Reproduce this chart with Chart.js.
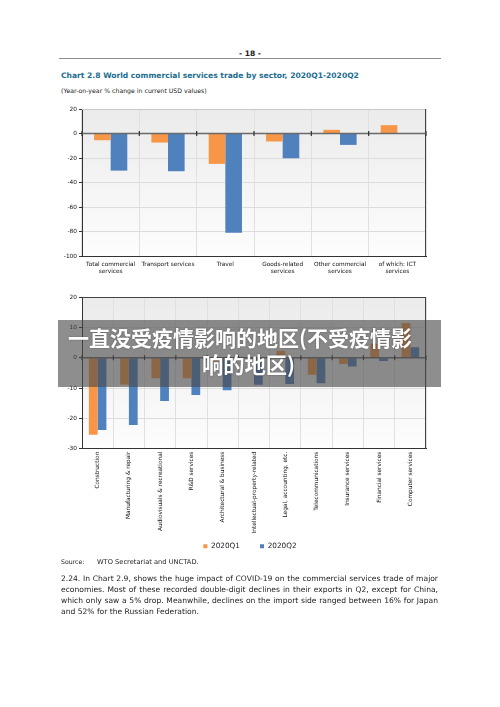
<!DOCTYPE html>
<html>
<head>
<meta charset="utf-8">
<script src="https://cdn.jsdelivr.net/npm/chart.js@4.4.1/dist/chart.umd.min.js"></script>
<style>
  body { margin: 0; background: #fff; }
  #page { position: relative; width: 500px; height: 707px; overflow: hidden; background: #fff;
          font-family: "DejaVu Sans", Verdana, sans-serif; color: #222; }
  .t { position: absolute; white-space: nowrap; line-height: 1; }
  canvas { position: absolute; }
  #rule { position: absolute; left: 59px; top: 58px; width: 382px; height: 1.4px; background: #8e8e8e; }
  .para { position: absolute; left: 61px; width: 377px; white-space: nowrap; line-height: 1; color: #222; }
  .just { text-align: justify; text-align-last: justify; }
  #banner { position: absolute; left: 58px; top: 320px; width: 383px; height: 67px; background: rgba(72,72,72,0.62); }
  .ban { position: absolute; white-space: nowrap; line-height: 1; color: #fff; font-weight: bold;
         font-family: "Noto Sans CJK SC", sans-serif; text-shadow: 0 0 2px rgba(0,0,0,0.35); }
</style>
</head>
<body>
<div id="page">
  <div class="t" id="pageNo" style="font-weight:bold;">- 18 -</div>
  <div id="rule"></div>
  <div class="t" id="title" style="left:61px;font-weight:bold;color:#1b6d8f;">Chart 2.8 World commercial services trade by sector, 2020Q1-2020Q2</div>
  <div class="t" id="subtitle" style="left:61px;">(Year-on-year % change in current USD values)</div>

  <canvas id="sectorChart" width="390" height="180" style="left:50px;top:103px;"></canvas>
  <canvas id="branchChart" width="390" height="281" style="left:50px;top:291px;"></canvas>

  <div class="t" id="srcLabel" style="left:61px;">Source:</div>
  <div class="t" id="srcText" style="left:97px;">WTO Secretariat and UNCTAD.</div>

  <div class="para just" id="p1">2.24. In Chart 2.9, shows the huge impact of COVID-19 on the commercial services trade of major</div>
  <div class="para just" id="p2">economies. Most of these recorded double-digit declines in their exports in Q2, except for China,</div>
  <div class="para just" id="p3">which only saw a 5% drop. Meanwhile, declines on the import side ranged between 16% for Japan</div>
  <div class="para" id="p4" style="width:auto;">and 52% for the Russian Federation.</div>

  <div id="banner"></div>
  <div class="ban" id="ban1">一直没受疫情影响的地区(不受疫情影</div>
  <div class="ban" id="ban2">响的地区)</div>
</div>

<script>
// chart 2.8 top panel: by sector
const sectors = [['Total commercial', 'services'], ['Transport services'], ['Travel'],
                 ['Goods-related', 'services'], ['Other commercial', 'services'], ['of which: ICT', 'services']];
const sectorQ1 = [-5.5, -7.4, -24.8, -6.5, 3.0, 6.8];
const sectorQ2 = [-30.3, -30.8, -81.0, -20.2, -9.3, 0];
const sectorTicks = [20, 0, -20, -40, -60, -80, -100];

// bottom panel: by service branch
const branches = ['Construction', 'Manufacturing & repair', 'Audiovisuals & recreational', 'R&D services',
                  'Architectural & business', 'Intellectual-property-related', 'Legal, accounting, etc.',
                  'Telecommunications', 'Insurance services', 'Financial services', 'Computer services'];
const branchQ1 = [-25.4, -8.8, -6.8, -6.8, -1.3, -0.4, 2.3, -5.6, -2.1, 4.6, 11.4];
const branchQ2 = [-23.8, -22.2, -14.3, -12.3, -10.7, -8.9, -8.7, -8.4, -2.9, -1.1, 3.4];
const branchTicks = [20, 10, 0, -10, -20, -30];

const seriesNames = ['2020Q1', '2020Q2'];
const ORANGE = '#f79646';
const BLUE = '#4f81bd';

// text sizing: scale font so the line has the width seen on the page
function fitWidth(id, target, centerY, centerX) {
    const el = document.getElementById(id);
    el.style.fontSize = '20px';
    const w = el.getBoundingClientRect().width;
    const fs = 20 * target / w;
    el.style.fontSize = fs + 'px';
    el.style.top = (centerY - fs / 2) + 'px';
    if (centerX !== undefined) el.style.left = (centerX - target / 2) + 'px';
    return fs;
}
fitWidth('pageNo', 22, 53.5, 250);
fitWidth('title', 298, 75.5);
fitWidth('subtitle', 146, 91);
fitWidth('srcLabel', 23.5, 562.5);
fitWidth('srcText', 102, 562.5);
const pfs = fitWidth('p4', 138, 612);
[['p1', 579], ['p2', 590], ['p3', 601]].forEach(function (p) {
    const el = document.getElementById(p[0]);
    el.style.fontSize = pfs + 'px';
    el.style.top = (p[1] - pfs / 2) + 'px';
});
fitWidth('ban1', 344, 337.5);
document.getElementById('ban1').style.left = '68px';
fitWidth('ban2', 93, 364);
document.getElementById('ban2').style.left = '202px';

Chart.defaults.font.family = '"DejaVu Sans", Verdana, sans-serif';
Chart.defaults.color = '#111';

// plot background, right/top frame, zero line with boundary ticks
const frame = {
    id: 'frame',
    beforeDraw(chart) {
        const ctx = chart.ctx, a = chart.chartArea;
        const g = ctx.createLinearGradient(0, a.top, 0, a.bottom);
        g.addColorStop(0, '#ebebeb');
        g.addColorStop(1, '#fdfdfd');
        ctx.save();
        ctx.fillStyle = g;
        ctx.fillRect(a.left, a.top, a.width, a.height);
        ctx.restore();
    },
    afterDatasetsDraw(chart, args, opts) {
        const ctx = chart.ctx, a = chart.chartArea;
        const x = chart.scales.x, y = chart.scales.y;
        ctx.save();
        ctx.lineWidth = 1;
        ctx.strokeStyle = opts.topColor;
        ctx.beginPath();
        ctx.moveTo(a.left, a.top + 0.5);
        ctx.lineTo(a.right, a.top + 0.5);
        ctx.stroke();
        ctx.strokeStyle = '#444';
        ctx.beginPath();
        ctx.moveTo(a.right - 0.5, a.top);
        ctx.lineTo(a.right - 0.5, a.bottom);
        ctx.stroke();

        const y0 = y.getPixelForValue(0);
        ctx.strokeStyle = '#6a6a6a';
        ctx.lineWidth = 1.4;
        ctx.beginPath();
        ctx.moveTo(a.left, y0);
        ctx.lineTo(a.right, y0);
        ctx.stroke();
        const n = x.ticks.length;
        const half = (x.getPixelForValue(1) - x.getPixelForValue(0)) / 2;
        ctx.lineWidth = 1.2;
        ctx.strokeStyle = '#333';
        for (let i = 0; i <= n; i++) {
            const bx = x.getPixelForValue(i) - half;
            ctx.beginPath();
            ctx.moveTo(bx, y0 - 2.5);
            ctx.lineTo(bx, y0 + 2.5);
            ctx.stroke();
        }
        ctx.restore();
    }
};

// nudge the legend so it sits centred under the page, as in the report
const legendShift = {
    id: 'legendShift',
    afterLayout(chart, args, opts) {
        const l = chart.legend;
        if (!l) return;
        l.left += opts.dx; l.right += opts.dx;
        l.top += opts.dy; l.bottom += opts.dy;
    }
};

function yScale(ticks) {
    return {
        min: Math.min.apply(null, ticks),
        max: Math.max.apply(null, ticks),
        afterFit: function (scale) { scale.width = 32; },
        ticks: { stepSize: ticks[0] - ticks[1], font: { size: 5.8 }, color: '#111', padding: 2 },
        grid: { color: '#dcdcdc', tickColor: '#333', tickLength: 3 },
        border: { display: true, color: '#333', width: 1 }
    };
}

function xGrid() {
    return { offset: true, color: '#e0e0e0', drawTicks: false };
}

new Chart(document.getElementById('sectorChart'), {
    type: 'bar',
    data: {
        labels: sectors,
        datasets: [
            { label: seriesNames[0], data: sectorQ1, backgroundColor: ORANGE, borderWidth: 0,
              categoryPercentage: 0.58, barPercentage: 1 },
            { label: seriesNames[1], data: sectorQ2, backgroundColor: BLUE, borderWidth: 0,
              categoryPercentage: 0.58, barPercentage: 1 }
        ]
    },
    options: {
        responsive: false,
        animation: false,
        layout: { padding: { top: 6, right: 14, left: 0, bottom: 0 } },
        plugins: { legend: { display: false }, tooltip: { enabled: false }, frame: { topColor: '#c8c8c8' } },
        scales: {
            x: {
                afterFit: function (scale) { scale.height = 27; },
                ticks: { font: { size: 5.8, lineHeight: 1.15 }, color: '#111', padding: 5, maxRotation: 0, autoSkip: false },
                grid: xGrid(),
                border: { display: true, color: '#333', width: 1 }
            },
            y: yScale(sectorTicks)
        }
    },
    plugins: [frame]
});

new Chart(document.getElementById('branchChart'), {
    type: 'bar',
    data: {
        labels: branches,
        datasets: [
            { label: seriesNames[0], data: branchQ1, backgroundColor: ORANGE, borderWidth: 0,
              categoryPercentage: 0.56, barPercentage: 1 },
            { label: seriesNames[1], data: branchQ2, backgroundColor: BLUE, borderWidth: 0,
              categoryPercentage: 0.56, barPercentage: 1 }
        ]
    },
    options: {
        responsive: false,
        animation: false,
        layout: { padding: { top: 6, right: 14, left: 0, bottom: 0 } },
        plugins: {
            tooltip: { enabled: false },
            frame: { topColor: '#444' },
            legendShift: { dx: 12, dy: -12 },
            legend: {
                position: 'bottom',
                labels: { boxWidth: 4, boxHeight: 4, padding: 20, color: '#222', font: { size: 7.3 } }
            }
        },
        scales: {
            x: {
                afterFit: function (scale) { scale.height = 86; },
                ticks: { font: { size: 5.8 }, color: '#111', padding: 3, minRotation: 90, maxRotation: 90, autoSkip: false },
                grid: xGrid(),
                border: { display: true, color: '#333', width: 1 }
            },
            y: yScale(branchTicks)
        }
    },
    plugins: [frame, legendShift]
});
</script>
</body>
</html>
